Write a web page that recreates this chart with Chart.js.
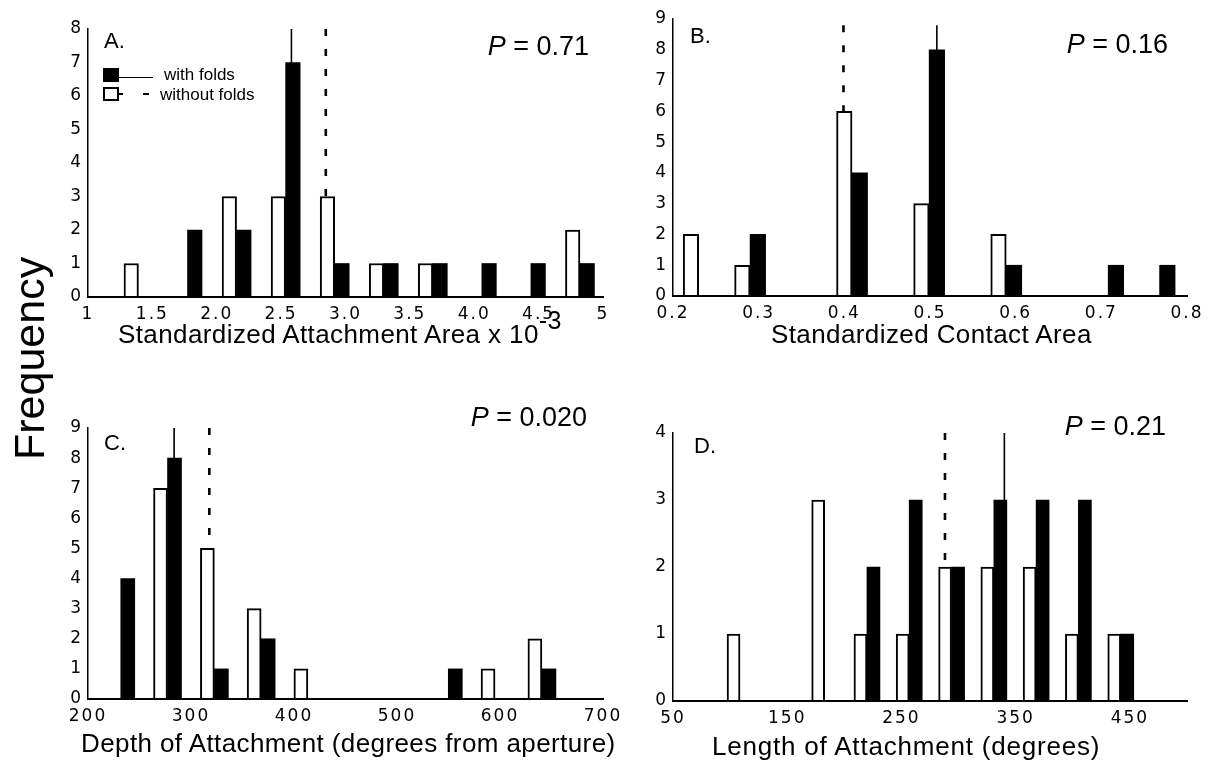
<!DOCTYPE html>
<html>
<head>
<meta charset="utf-8">
<title>Attachment histograms</title>
<script src="https://cdn.jsdelivr.net/npm/chart.js@4.4.1/dist/chart.umd.min.js"></script>
<style>
  body { margin: 0; background: #fff; }
  #fig { position: relative; width: 1212px; height: 760px; overflow: hidden;
         font-family: "Liberation Sans", Arial, Helvetica, sans-serif; color: #000; }
  #fig canvas { position: absolute; }
  .txt { position: absolute; white-space: nowrap; line-height: 1; }
  .lbl { font-size: 22px; }
  .pval { font-size: 27px; }
  .pval i { font-style: italic; }
  .ttl { font-size: 26px; letter-spacing: 0.4px; }
  .key { position: absolute; background: #000; }
</style>
</head>
<body>
<div id="fig">
  <canvas id="chart-a"></canvas>
  <canvas id="chart-b"></canvas>
  <canvas id="chart-c"></canvas>
  <canvas id="chart-d"></canvas>

  <div class="txt" style="left:8px;top:460px;font-size:43px;transform-origin:0 0;transform:rotate(-90deg);">Frequency</div>

  <div class="txt lbl" style="left:104px;top:30px;">A.</div>
  <div class="txt lbl" style="left:690px;top:25px;">B.</div>
  <div class="txt lbl" style="left:104px;top:432px;">C.</div>
  <div class="txt lbl" style="left:694px;top:435px;">D.</div>

  <div class="txt pval" style="right:623px;top:33px;"><i>P</i> = 0.71</div>
  <div class="txt pval" style="right:44px;top:31px;"><i>P</i> = 0.16</div>
  <div class="txt pval" style="right:625px;top:404px;"><i>P</i> = 0.020</div>
  <div class="txt pval" style="right:46px;top:413px;"><i>P</i> = 0.21</div>

  <!-- inset key, panel A -->
  <div class="key" style="left:103px;top:68px;width:16px;height:14px;"></div>
  <div class="key" style="left:119px;top:77px;width:34px;height:1px;"></div>
  <div class="txt" style="left:164px;top:66px;font-size:17px;">with folds</div>
  <div class="key" style="left:103px;top:87px;width:16px;height:14px;background:#fff;border:2px solid #000;box-sizing:border-box;"></div>
  <div class="key" style="left:119px;top:93px;width:4px;height:2px;"></div>
  <div class="key" style="left:143px;top:93px;width:6px;height:2px;"></div>
  <div class="txt" style="left:160px;top:86px;font-size:17px;">without folds</div>

  <div class="txt ttl" style="left:118px;top:321px;">Standardized Attachment Area x 10<span style="position:relative;top:-14px;font-size:25px;">-3</span></div>
  <div class="txt ttl" style="left:771px;top:321px;">Standardized Contact Area</div>
  <div class="txt ttl" style="left:81px;top:730px;">Depth of Attachment (degrees from aperture)</div>
  <div class="txt ttl" style="left:712px;top:733px;letter-spacing:0.8px;">Length of Attachment (degrees)</div>
</div>

<script>
// ── DATA ──

// A. standardized attachment area (x 10^-3)
const areaBins    = [1.392, 1.773, 2.154, 2.535, 2.916, 3.297, 3.678, 4.059, 4.440, 4.821];
const areaWithout = [1, 0, 3, 3, 3, 1, 1, 0, 0, 2];
const areaWith    = [0, 2, 2, 7, 1, 1, 1, 1, 1, 1];
const areaMeans   = [2.58, 2.847];          // with, without
const areaTicks   = [1, 1.5, 2, 2.5, 3, 3.5, 4, 4.5, 5];
const areaLabels  = ['1', '1.5', '2.0', '2.5', '3.0', '3.5', '4.0', '4.5', '5'];

// B. standardized contact area
const contactBins    = [0.230, 0.260, 0.290, 0.320, 0.350, 0.380, 0.409, 0.439, 0.469, 0.499,
                        0.529, 0.559, 0.589, 0.619, 0.649, 0.679, 0.708, 0.738, 0.768];
const contactWithout = [2, 0, 1, 0, 0, 0, 6, 0, 0, 3, 0, 0, 2, 0, 0, 0, 0, 0, 0];
const contactWith    = [0, 0, 2, 0, 0, 0, 4, 0, 0, 8, 0, 0, 1, 0, 0, 0, 1, 0, 1];
const contactMeans   = [0.508, 0.399];
const contactTicks   = [0.2, 0.3, 0.4, 0.5, 0.6, 0.7, 0.8];
const contactLabels  = ['0.2', '0.3', '0.4', '0.5', '0.6', '0.7', '0.8'];

// C. depth of attachment (degrees from aperture)
const depthBins    = [231.8, 277.2, 322.7, 368.1, 413.5, 459.0, 504.4, 549.8, 595.2, 640.7];
const depthWithout = [0, 7, 5, 3, 1, 0, 0, 0, 1, 2];
const depthWith    = [4, 8, 1, 2, 0, 0, 0, 1, 0, 1];
const depthMeans   = [283.6, 317.8];
const depthTicks   = [200, 300, 400, 500, 600, 700];
const depthLabels  = ['200', '300', '400', '500', '600', '700'];

// D. length of attachment (degrees)
const lengthBins    = [108.7, 145.7, 182.8, 219.8, 256.8, 293.9, 330.9, 367.9, 404.9, 442.0];
const lengthWithout = [1, 0, 3, 1, 1, 2, 2, 2, 1, 1];
const lengthWith    = [0, 0, 0, 2, 3, 2, 3, 3, 3, 1];
const lengthMeans   = [340.1, 288.1];
const lengthTicks   = [50, 150, 250, 350, 450];
const lengthLabels  = ['50', '150', '250', '350', '450'];

// ── CHARTS ──

const tickFont = { family: '"DejaVu Sans", Verdana, sans-serif', size: 17 };

// the old figure uses a wide face for its tick numbers
const wideTicks = {
    id: 'wideTicks',
    beforeDraw(chart) { chart.ctx.letterSpacing = '2px'; },
    afterDraw(chart) { chart.ctx.letterSpacing = '0px'; }
};

function histChart(id, box, area, d) {
    const el = document.getElementById(id);
    el.width = box.w; el.height = box.h;
    el.style.left = box.x + 'px'; el.style.top = box.y + 'px';
    const yW = area.left - box.x;
    const xH = box.y + box.h - area.bottom;

    const pts = (vals) => d.bins.map((x, i) => ({ x, y: vals[i] }));
    const meanLine = (m) => [{ x: m, y: d.meanTop }, { x: m, y: 0 }];

    return new Chart(el, {
        type: 'bar',
        data: { datasets: [
            { label: 'without folds', data: pts(d.without), backgroundColor: '#fff', borderColor: '#000',
              borderWidth: { top: 2, left: 2, right: 2, bottom: 0 }, barThickness: d.barW, order: 1 },
            { label: 'with folds', data: pts(d.withF), backgroundColor: '#000', borderWidth: 0,
              barThickness: d.barW, order: 1 },
            { type: 'line', label: 'mean with folds', data: meanLine(d.means[0]), borderColor: '#000',
              borderWidth: 1.6, pointRadius: 0, order: 2 },
            { type: 'line', label: 'mean without folds', data: meanLine(d.means[1]), borderColor: '#000',
              borderWidth: 2.6, borderDash: [7, 13], pointRadius: 0, order: 2 }
        ]},
        options: {
            responsive: false, animation: false, events: [],
            layout: { padding: { top: area.top - box.y, right: box.x + box.w - area.right, left: 0, bottom: 0 } },
            plugins: { legend: { display: false }, tooltip: { enabled: false } },
            scales: {
                x: {
                    type: 'linear', min: d.xMin, max: d.xMax, offset: false,
                    grid: { drawOnChartArea: false, drawTicks: false, offset: false },
                    border: { display: true, color: '#000', width: 2, z: 1 },
                    afterBuildTicks: s => { s.ticks = d.ticks.map(v => ({ value: v })); },
                    afterFit: s => { s.height = xH; },
                    ticks: { autoSkip: false, maxRotation: 0, padding: 7, color: '#000', font: tickFont,
                             callback: (v, i) => d.labels[i] }
                },
                y: {
                    min: 0, max: d.yMax,
                    grid: { drawOnChartArea: false, drawTicks: false },
                    border: { display: true, color: '#000', width: 1.5 },
                    afterFit: s => { s.width = yW; },
                    ticks: { stepSize: 1, padding: 5, color: '#000', font: tickFont }
                }
            }
        },
        plugins: [wideTicks]
    });
}

histChart('chart-a', { x: 30, y: 0, w: 600, h: 330 }, { left: 88, top: 29, right: 603, bottom: 297 }, {
    bins: areaBins, without: areaWithout, withF: areaWith, means: areaMeans, meanTop: 8,
    ticks: areaTicks, labels: areaLabels, xMin: 1, xMax: 5, yMax: 8, barW: 14.5
});
histChart('chart-b', { x: 615, y: 0, w: 597, h: 330 }, { left: 673, top: 19, right: 1187, bottom: 296 }, {
    bins: contactBins, without: contactWithout, withF: contactWith, means: contactMeans, meanTop: 8.8,
    ticks: contactTicks, labels: contactLabels, xMin: 0.2, xMax: 0.8, yMax: 9, barW: 15.5
});
histChart('chart-c', { x: 30, y: 400, w: 600, h: 330 }, { left: 88, top: 428, right: 603, bottom: 699 }, {
    bins: depthBins, without: depthWithout, withF: depthWith, means: depthMeans, meanTop: 9,
    ticks: depthTicks, labels: depthLabels, xMin: 200, xMax: 700, yMax: 9, barW: 14
});
histChart('chart-d', { x: 615, y: 400, w: 597, h: 330 }, { left: 673, top: 433, right: 1187, bottom: 701 }, {
    bins: lengthBins, without: lengthWithout, withF: lengthWith, means: lengthMeans, meanTop: 4,
    ticks: lengthTicks, labels: lengthLabels, xMin: 50, xMax: 500, yMax: 4, barW: 13
});
</script>
</body>
</html>
